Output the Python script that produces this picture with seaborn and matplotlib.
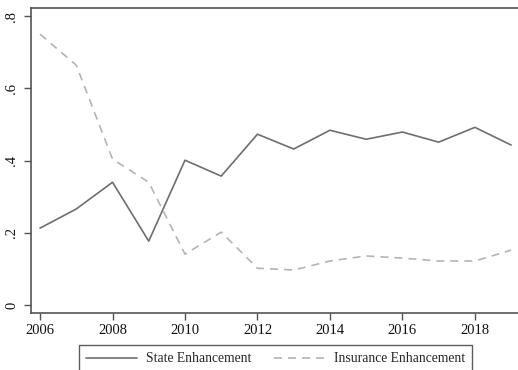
import matplotlib
matplotlib.use("Agg")
import matplotlib.pyplot as plt
import seaborn as sns
import pandas as pd

years = list(range(2006, 2020))
state_enh = [0.213, 0.266, 0.340, 0.177, 0.401, 0.357, 0.473, 0.432,
             0.484, 0.459, 0.479, 0.451, 0.492, 0.443]
insurance_enh = [0.750, 0.664, 0.404, 0.340, 0.141, 0.202, 0.102, 0.097,
                 0.122, 0.136, 0.130, 0.122, 0.122, 0.152]
x_ticks = list(range(2006, 2019, 2))
y_ticks = [0, 0.2, 0.4, 0.6, 0.8]
y_labels = ["0", ".2", ".4", ".6", ".8"]

df = pd.DataFrame({"year": years, "State Enhancement": state_enh,
                   "Insurance Enhancement": insurance_enh})

sns.set_style("white")
plt.rcParams["font.family"] = ["Liberation Serif", "DejaVu Serif"]

fig = plt.figure(figsize=(5.18, 3.70), dpi=100)
ax = fig.add_axes([0.0598, 0.154, 0.9402, 0.824])

sns.lineplot(data=df, x="year", y="State Enhancement", ax=ax,
             color="#6e6e6e", linewidth=1.2, label="State Enhancement")
sns.lineplot(data=df, x="year", y="Insurance Enhancement", ax=ax,
             color="#b4b4b4", linewidth=1.2, linestyle=(0, (4.8, 3.6)),
             label="Insurance Enhancement")

ax.set_xlim(2005.75, 2019.19)
ax.set_ylim(-0.022, 0.822)
ax.set_xticks(x_ticks)
ax.set_yticks(y_ticks)
ax.set_yticklabels(y_labels, rotation=90, va="center")
ax.set_xlabel("")
ax.set_ylabel("")
ax.tick_params(axis="both", direction="out", length=5, width=1,
               color="#555555", labelsize=10.5, labelcolor="#111111",
               bottom=True, left=True)
ax.tick_params(axis="x", pad=3)
ax.tick_params(axis="y", pad=4)
for side in ["left", "bottom", "top"]:
    ax.spines[side].set_color("#555555")
    ax.spines[side].set_linewidth(1.2)
ax.spines["right"].set_visible(False)
ax.grid(False)

ax.get_legend().remove()
handles, labels = ax.get_legend_handles_labels()
leg = fig.legend(handles, labels, ncol=2, loc="upper center",
                 bbox_to_anchor=(0.532, 0.0676), frameon=True, fancybox=False,
                 fontsize=9.8, handlelength=3.75, columnspacing=1.6,
                 borderpad=0.55, handletextpad=0.66, borderaxespad=0)
leg.get_frame().set_edgecolor("#333333")
leg.get_frame().set_linewidth(1.0)

fig.savefig("out.png", dpi=100)
